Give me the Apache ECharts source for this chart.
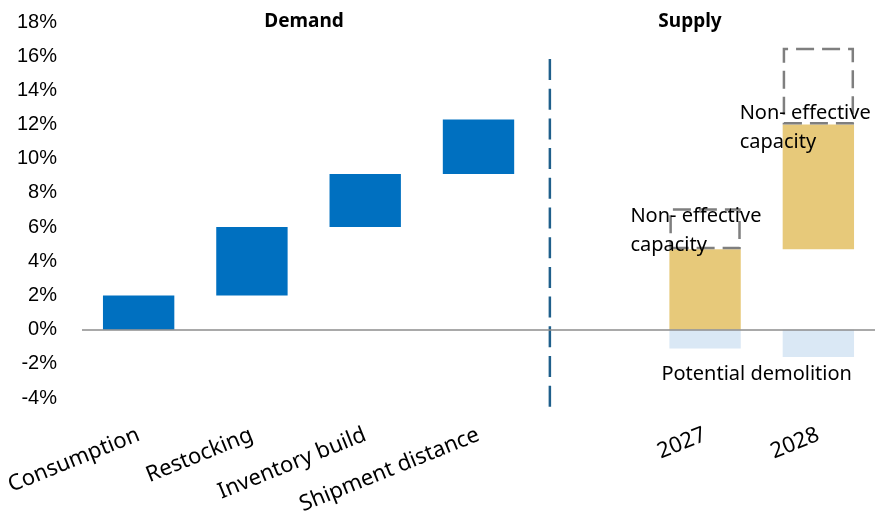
<!DOCTYPE html>
<html lang="en">
<head>
    <meta charset="UTF-8">
    <title>Demand vs supply</title>
    <script src="https://cdn.jsdelivr.net/npm/echarts@6/dist/echarts.min.js"></script>
    <style>
        html, body { margin: 0; padding: 0; background: #fff; }
        #chart { width: 878px; height: 522px; }
    </style>
</head>
<body>
<div id="chart"></div>
<script type="text/javascript">
    // categories (slot 5 is the gap between demand and supply)
    var categories = ['Consumption', 'Restocking', 'Inventory build', 'Shipment distance', '', '2027', '2028'];
    // demand waterfall steps, %
    var demandSteps = [2.0, 4.0, 3.1, 3.2];
    // supply, %
    var effectiveFrom = [0, 4.7];
    var effectiveTo = [4.7, 12.0];
    var nonEffectiveTo = [7.1, 16.5];
    var demolition = [-1.1, -1.6];
    // y axis
    var yMin = -4, yMax = 18, yStep = 2;
    // divider between demand and supply (in category units, 0..7)
    var dividerX = 4.13;

    var nDemand = demandSteps.length;
    var gap = categories.length - nDemand - effectiveTo.length;

    function blanks(n) {
        var a = [];
        for (var i = 0; i < n; i++) a.push('-');
        return a;
    }

    // transparent bases for the floating bars
    var base = [];
    var acc = 0;
    demandSteps.forEach(function (v) { base.push(acc); acc += v; });
    base = base.concat(blanks(gap)).concat(effectiveFrom);

    var demandData = demandSteps.concat(blanks(gap + effectiveTo.length));
    var effectiveData = blanks(nDemand + gap).concat(effectiveTo.map(function (v, i) {
        return +(v - effectiveFrom[i]).toFixed(2);
    }));

    var boxLabelPos = [[-39, -6], [-43, 51]];
    var boxData = blanks(nDemand + gap).concat(nonEffectiveTo.map(function (v, i) {
        return {
            value: +(v - effectiveTo[i]).toFixed(2),
            label: { show: true, position: boxLabelPos[i] }
        };
    }));

    var demolitionData = blanks(nDemand + gap).concat(demolition.map(function (v, i) {
        if (i === demolition.length - 1) {
            return { value: v, label: { show: true, position: [-26, 45] } };
        }
        return v;
    }));

    var txtFont = 'Noto Sans';

    var chart = echarts.init(document.getElementById('chart'));
    chart.setOption({
        animation: false,
        grid: [
            { left: 82, right: 3, top: 22, bottom: 124, containLabel: false },
            // grid for the dashed divider, taller than the plot
            { left: 82, right: 3, top: 59, bottom: 115, containLabel: false }
        ],
        graphic: [
            { type: 'text', x: 304, y: 22, style: { text: 'Demand', fontFamily: txtFont, fontWeight: 'bold', fontSize: 19, fill: '#000', textAlign: 'center', textVerticalAlign: 'middle' } },
            { type: 'text', x: 690, y: 22, style: { text: 'Supply', fontFamily: txtFont, fontWeight: 'bold', fontSize: 19, fill: '#000', textAlign: 'center', textVerticalAlign: 'middle' } }
        ],
        xAxis: [{
            type: 'category',
            data: categories,
            axisLine: { show: false, onZero: false },
            axisTick: { show: false },
            splitLine: { show: false },
            axisLabel: {
                interval: 0,
                rotate: 22,
                margin: 36,
                fontFamily: txtFont,
                fontSize: 22,
                color: '#000'
            }
        }, {
            type: 'value',
            gridIndex: 1,
            min: 0,
            max: categories.length,
            show: false
        }],
        yAxis: [{
            type: 'value',
            min: yMin,
            max: yMax,
            interval: yStep,
            axisLine: { show: false },
            axisTick: { show: false },
            splitLine: { show: false },
            axisLabel: {
                formatter: '{value}%',
                margin: 25,
                fontFamily: 'Liberation Sans',
                fontSize: 20,
                color: '#000'
            }
        }, {
            type: 'value',
            gridIndex: 1,
            min: 0,
            max: 1,
            show: false
        }],
        series: [{
            name: 'base',
            type: 'bar',
            stack: 'a',
            barWidth: '63%',
            silent: true,
            itemStyle: { color: 'rgba(0,0,0,0)' },
            data: base
        }, {
            name: 'Demand',
            type: 'bar',
            stack: 'a',
            itemStyle: { color: '#0070c0' },
            data: demandData,
            markLine: {
                silent: true,
                symbol: 'none',
                label: { show: false },
                lineStyle: { color: '#8c8c8c', width: 1.5, type: 'solid' },
                data: [{ yAxis: 0 }]
            }
        }, {
            name: 'Effective capacity',
            type: 'bar',
            stack: 'a',
            itemStyle: { color: '#e7c97a' },
            data: effectiveData
        }, {
            name: 'Non-effective capacity',
            type: 'bar',
            stack: 'a',
            itemStyle: {
                color: 'rgba(0,0,0,0)',
                borderColor: '#7f7f7f',
                borderWidth: 2.5,
                borderType: [18, 8]
            },
            label: {
                show: false,
                formatter: 'Non- effective\ncapacity',
                fontFamily: txtFont,
                fontSize: 20,
                lineHeight: 29,
                color: '#000',
                align: 'left',
                verticalAlign: 'top'
            },
            data: boxData
        }, {
            name: 'Potential demolition',
            type: 'bar',
            stack: 'a',
            itemStyle: { color: '#dae8f5' },
            label: {
                show: false,
                formatter: 'Potential demolition',
                fontFamily: txtFont,
                fontSize: 20,
                color: '#000',
                align: 'center',
                verticalAlign: 'middle'
            },
            data: demolitionData
        }, {
            name: 'divider',
            type: 'line',
            xAxisIndex: 1,
            yAxisIndex: 1,
            silent: true,
            symbol: 'none',
            lineStyle: { color: '#1f5f8b', width: 2.5, type: [21, 8.7] },
            data: [[dividerX, 1], [dividerX, 0]]
        }]
    });
</script>
</body>
</html>
